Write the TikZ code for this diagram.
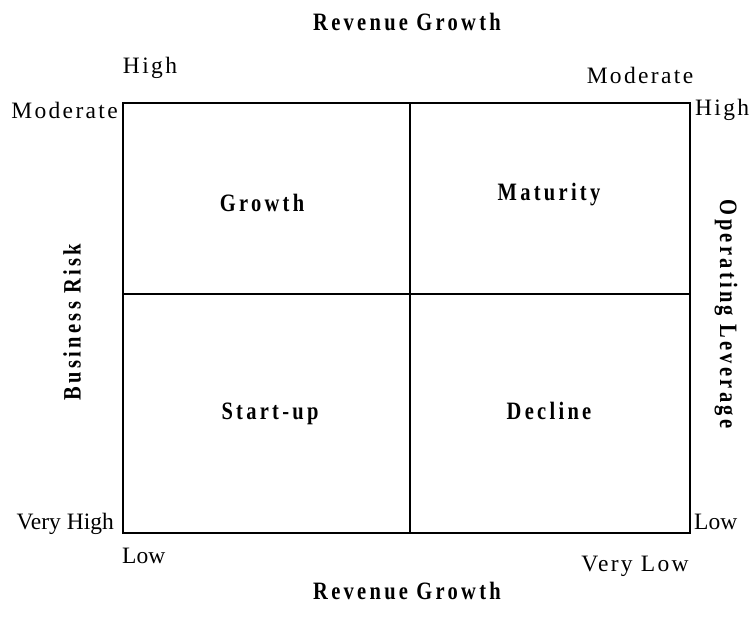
\documentclass[tikz,border=0pt]{standalone}
\usepackage{fontspec}
\setmainfont{Liberation Serif}
\newfontfamily\widefont[LetterSpace=10]{Liberation Serif}
\newfontfamily\widerfont[LetterSpace=16]{Liberation Serif}
\usepackage{tikz}
\usetikzlibrary{positioning}

\tikzset{
  tick/.style={font=\fontsize{23.5}{27}\selectfont, inner sep=0pt},
  widetick/.style={font=\fontsize{23.5}{27}\selectfont\widefont, inner sep=0pt},
  title/.style={font=\fontsize{25}{29}\selectfont\widerfont\bfseries,
    xscale=0.82, inner sep=0pt},
}

\begin{document}
\begin{tikzpicture}[x=1pt,y=-1pt]

  \useasboundingbox (0,0) rectangle (753,626);

  % the four quadrants
  \draw[line width=2.4pt] (123,103) rectangle (690,533);
  \draw[line width=2.4pt] (410,103) -- (410,533);
  \draw[line width=2.4pt] (123,294) -- (690,294);

  \node[title] (growth) at (262,203) {Growth};
  \node[title] (maturity) at (549,195) {Maturity};
  \node[title] (startup) at (270,414) {Start-up};
  \node[title] (decline) at (549,411) {Decline};

  % axis titles
  \node[title] (revtop) at (407,22) {Revenue Growth};
  \node[title] (revbot) at (407,591) {Revenue Growth};
  \node[rotate=90, title] (risk) at (72,322) {Business Risk};
  \node[rotate=-90, title] (lever) at (726,314) {Operating Leverage};

  % corner values
  \node[widetick] (hightl) at (150,68) {High};
  \node[widetick] (modtr) at (640,75) {Moderate};
  \node[widetick, anchor=east] (modl) at (118,110) {Moderate};
  \node[widetick, anchor=west] (highr) at (695,110) {High};
  \node[tick, anchor=east] (vhighl) at (114,524) {Very High};
  \node[tick, anchor=west] (lowr) at (694,522) {Low};
  \node[tick, anchor=west] (lowbl) at (122,556) {Low};
  \node[widetick] (vlowbr) at (635,566) {Very Low};

\end{tikzpicture}
\end{document}
